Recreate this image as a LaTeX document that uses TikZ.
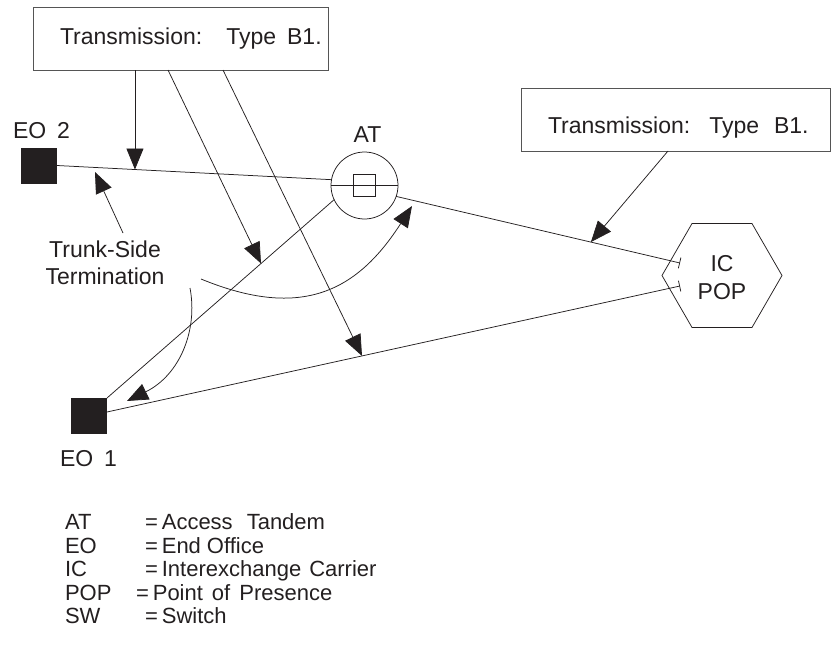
\documentclass[tikz,border=0pt]{standalone}
\usepackage{fontspec}
\setmainfont{Liberation Sans}
\usetikzlibrary{arrows.meta,shapes.geometric,calc}
\definecolor{ink}{RGB}{35,31,32}
\definecolor{frame}{RGB}{85,85,85}
\begin{document}
\begin{tikzpicture}[x=1pt,y=-1pt,
  txt/.style={inner sep=0pt, outer sep=0pt, font=\fontsize{22}{26}\selectfont, text=ink},
  bigtxt/.style={txt, font=\fontsize{23}{27}\selectfont},
  tbox/.style={draw=frame, line width=0.9pt, minimum width=#1, minimum height=63pt, inner sep=0pt, outer sep=0pt},
  office/.style={fill=ink, draw=none, minimum width=36pt, minimum height=36pt, inner sep=0pt, outer sep=0pt},
  conn/.style={draw=ink, line width=0.75pt},
  arr/.style={conn, -{Triangle[length=21pt,width=17pt]}},
  barend/.style={conn, -{Bar[width=11pt,line width=0.75pt]}}]
\useasboundingbox (0,0) rectangle (831,653);

% boxes
\node[tbox=295pt] (box1) at (180.5,38.5) {};
\node[bigtxt, anchor=base west] (t1) at (60,45) {Transmission:\hspace{24pt}Type\hspace{11pt}B1.};
\node[tbox=309pt] (box2) at (675.5,119.5) {};
\node[bigtxt, anchor=base west] (t2) at (548,133) {Transmission:\hspace{19pt}Type\hspace{15pt}B1.};

% offices
\node[office] (EO2) at (39,165.5) {};
\node[bigtxt, anchor=base west] (lEO2) at (13,138) {EO\hspace{11pt}2};
\node[office] (EO1) at (89,416) {};
\node[bigtxt, anchor=base west] (lEO1) at (60,466) {EO\hspace{11pt}1};

% access tandem
\node[circle, draw=ink, line width=0.75pt, minimum size=67pt, inner sep=0pt, outer sep=0pt] (AT) at (364.5,185.5) {};
\node[draw=ink, line width=0.75pt, minimum size=22pt, inner sep=0pt] (ATsw) at (364,185) {};
\draw[conn] (AT.west) -- (AT.east);
\node[bigtxt, anchor=base] (lAT) at (367.5,142) {AT};

% IC POP
\node[regular polygon, regular polygon sides=6, minimum size=120pt, draw=ink, line width=0.75pt, inner sep=0pt, outer sep=0pt] (IC) at (722,275.5) {};
\node[bigtxt, anchor=base] (lIC) at (722,271) {IC};
\node[bigtxt, anchor=base] (lPOP) at (722,299) {POP};

% connection points
\coordinate (ICa) at ($(IC.center)+(-42,-12.5)$);
\coordinate (ICb) at ($(IC.center)+(-42,10.5)$);
\coordinate (EO1e) at ($(EO1.east)+(0,-4)$);

% trunks
\draw[conn] (EO2.east) -- (AT.170);
\draw[barend] (AT.-19) -- (ICa);
\draw[conn] (EO1.north east) -- (AT.205);
\draw[barend] (EO1e) -- (ICb);

% pointer targets
\coordinate (p1) at ($(EO2.east)!0.284!(AT.170)$);
\coordinate (p2) at ($(EO1.north east)!0.678!(AT.205)$);
\coordinate (p3) at ($(EO1e)!0.445!(ICb)$);
\coordinate (p4) at ($(AT.-19)!0.686!(ICa)$);

\draw[arr] (box1.south -| p1) -- (p1);
\draw[arr] ($(box1.south west)+(135,0)$) -- (p2);
\draw[arr] ($(box1.south west)+(190,0)$) -- (p3);
\draw[arr] ($(box2.south west)+(147,0)$) -- (p4);

% trunk-side termination
\node[bigtxt, anchor=base] (ts1) at (105,257) {Trunk-Side};
\node[bigtxt, anchor=base] (ts2) at (105,284) {Termination};
\coordinate (tsA) at (123,233);
\coordinate (tsAt) at (95,172);
\draw[arr] (tsA) -- (tsAt);
\coordinate (c1s) at (201,279);
\coordinate (c1e) at (412,206);
\draw[arr] (c1s) .. controls (303,321) and (358,290) .. (c1e);
\coordinate (c2s) at (190,288);
\coordinate (c2e) at (127,401);
\draw[arr] (c2s) .. controls (198,330) and (180,375) .. (c2e);

% legend
\node[txt, anchor=base west] (kAT) at (65,529) {AT};
\node[txt, anchor=base west] (dAT) at (145,529) {=\hspace{4pt}Access\hspace{14pt}Tandem};
\node[txt, anchor=base west] (kEO) at (65,553) {EO};
\node[txt, anchor=base west] (dEO) at (145,553) {=\hspace{4pt}End\hspace{6pt}Office};
\node[txt, anchor=base west] (kIC) at (65,576) {IC};
\node[txt, anchor=base west] (dIC) at (145,576) {=\hspace{4pt}Interexchange\hspace{8pt}Carrier};
\node[txt, anchor=base west] (kPOP) at (65,600) {POP};
\node[txt, anchor=base west] (dPOP) at (136,600) {=\hspace{4pt}Point\hspace{9pt}of\hspace{9pt}Presence};
\node[txt, anchor=base west] (kSW) at (65,623) {SW};
\node[txt, anchor=base west] (dSW) at (145,623) {=\hspace{4pt}Switch};
\end{tikzpicture}
\end{document}
